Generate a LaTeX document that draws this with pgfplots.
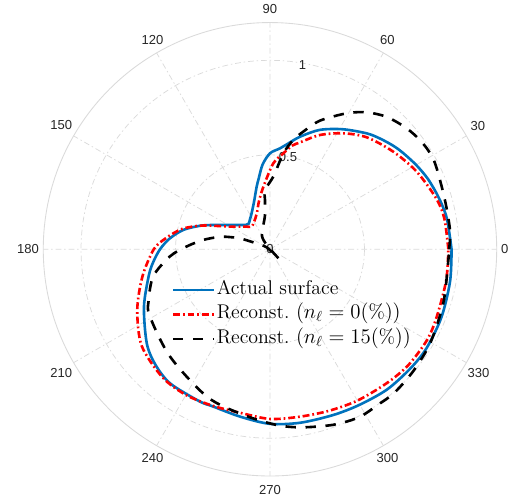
\documentclass[border=0pt]{standalone}
\usepackage{fontspec}
\usepackage{pgfplots}
\pgfplotsset{compat=1.18}
\usepgfplotslibrary{polar}
\newfontfamily\ticksf{Liberation Sans}
\definecolor{mblue}{RGB}{0,114,189}
\definecolor{tickgray}{RGB}{38,38,38}
\definecolor{gridgray}{RGB}{218,218,218}

\begin{document}
\begin{tikzpicture}
\begin{polaraxis}[
  width=312.9pt, height=312.9pt, scale only axis,
  ymin=0, ymax=1.2,
  xtick={0,30,...,330},
  ytick={0,0.5,1},
  yticklabels={},
  xmajorgrids, ymajorgrids,
  major grid style={gridgray, line width=0.5pt, dash pattern=on 4pt off 2pt on 1pt off 2pt},
  separate axis lines,
  x axis line style={gridgray, line width=0.6pt},
  y axis line style={draw=none},
  major tick length=0pt,
  /pgf/number format/assume math mode=true,
  xticklabel style={font=\fontsize{9}{11}\selectfont\ticksf, text=tickgray,
    anchor=\tick+180, inner xsep=2.8pt, inner ysep=1.5pt, yshift={4.6pt*sin(\tick)}},
  legend cell align=left,
  legend image code/.code={\draw[#1] (0pt,0pt) -- (28.3pt,0pt);},
  legend style={at={(axis description cs:0.5,0.5)}, anchor=north west,
    xshift=-68pt, yshift=-21.4pt, draw=none, fill=none, inner sep=0pt,
    row sep=3.9pt, font=\fontsize{13.7}{16}\selectfont,
    nodes={inner xsep=1pt, inner ysep=0pt, text height=9.5pt, text depth=3.5pt}},
]
% radial tick labels along the 80 degree spoke
\node[font=\fontsize{9}{11}\selectfont\ticksf, text=tickgray] at (axis cs:0,0) {0};
\node[font=\fontsize{9}{11}\selectfont\ticksf, text=tickgray] at (axis cs:79,0.5) {0.5};
\node[font=\fontsize{9}{11}\selectfont\ticksf, text=tickgray] at (axis cs:80,0.99) {1};
\coordinate (O) at (axis cs:0,0);

% actual surface
\addplot[mblue, line width=1.8pt, smooth, tension=0.5] coordinates {
(0,0.961) (10,0.95) (17,0.934) (24,0.915) (30,0.893) (36,0.869) (40,0.852)
(45,0.827) (50,0.80) (58.6,0.744) (67.3,0.685) (75,0.617) (80,0.57)
(84.3,0.537) (90,0.508) (95,0.45) (99,0.38) (102,0.339) (108,0.27)
(117,0.214) (124,0.19) (130,0.176) (135,0.182) (140,0.2) (145,0.224)
(150,0.257) (155.5,0.31) (161,0.385) (167.4,0.47) (174,0.535) (180,0.582)
(186,0.62) (192,0.655) (204.5,0.733) (217.3,0.82) (225,0.86) (233.3,0.885)
(245,0.887) (250,0.885) (260,0.9) (270,0.924) (280,0.932) (291,0.939)
(300,0.95) (310,0.967) (320,0.975) (328,0.98) (338.6,0.976) (350,0.968)
(360,0.961)
};
\addlegendentry{Actual surface}

% reconstruction without noise
\addplot[red, line width=1.8pt, smooth, tension=0.5,
  dash pattern=on 4.8pt off 2pt on 1.2pt off 2pt] coordinates {
(0,0.944) (10,0.937) (17,0.92) (28,0.878) (38.4,0.832) (49.2,0.783)
(57.7,0.726) (66.4,0.66) (74,0.59) (78,0.56) (82,0.513) (87.8,0.455)
(96,0.333) (103,0.26) (110,0.203) (120,0.168) (129,0.154) (135,0.169)
(140,0.186) (145,0.209) (150,0.239) (155,0.29) (161,0.385) (167,0.478)
(174,0.555) (180,0.615) (192,0.69) (204.5,0.772) (217,0.85) (230,0.885)
(240,0.89) (250,0.882) (260,0.88) (270,0.898) (280,0.9) (290,0.91)
(300,0.925) (311,0.94) (320,0.955) (330,0.96) (338,0.952) (350,0.947)
(360,0.944)
};
\addlegendentry{Reconst.~$(n_\ell = 0(\%))$}

% reconstruction with 15% noise
\addplot[black, line width=1.8pt, smooth, tension=0.5,
  dash pattern=on 7.2pt off 6.6pt] coordinates {
(0,0.948) (6,0.958) (16,0.962) (28,0.986) (35,0.984) (41.5,0.966)
(48.6,0.934) (54.8,0.887) (60.6,0.826) (68.8,0.73) (74,0.65) (78,0.591)
(82,0.513) (87.4,0.385) (94.8,0.315) (95.8,0.262) (98.3,0.183)
(107,0.125) (122,0.079) (128,0.02) (313,0.065) (150,0.02) (157,0.085)
(160,0.169) (163,0.22) (166,0.273) (172,0.356) (178,0.44) (184,0.53)
(193,0.634) (203,0.698) (209,0.728) (227,0.776) (247,0.849) (261,0.888)
(272,0.93) (280,0.957) (290,0.988) (298,1.006) (305,1.002) (311,1.005)
(320,0.995) (330,0.982) (343,0.96) (357,0.946) (360,0.948)
};
\addlegendentry{Reconst.~$(n_\ell = 15(\%))$}
\end{polaraxis}
\path (O) ++(-186.3pt,172pt) rectangle ++(359.5pt,-346.4pt);
\end{tikzpicture}
\end{document}
